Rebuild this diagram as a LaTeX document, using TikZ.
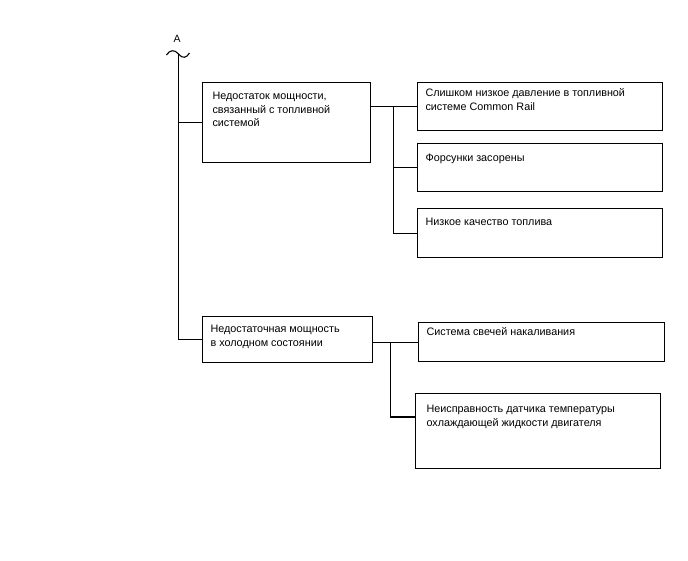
\documentclass[tikz,border=0pt]{standalone}
\usepackage{fontspec}
\setmainfont{Liberation Sans}
\newcommand\bt[5]{\parbox[c][#1pt][t]{#2pt}{\fontsize{10.8}{13.5}\selectfont\raggedright\leftskip=#3pt\leavevmode\rule{0pt}{#4pt}#5}}
\begin{document}
\begin{tikzpicture}[x=1pt,y=-1pt,
  box/.style={draw, line width=1.1pt, inner sep=0pt, anchor=north west},
  conn/.style={line width=1.1pt}]
\useasboundingbox (0,0) rectangle (688,560);
\node[font=\fontsize{10.5}{12}\selectfont] (A) at (177,39) {A};
\coordinate (top) at (178.5,54);
\draw[conn] (166.5,55) .. controls (169.5,50) and (174.5,49) .. (top) .. controls (182.5,59) and (186.5,58) .. (189.5,53);
\node[box] (b1) at (202,82) {\bt{80}{168}{10}{17}{Недостаток мощности,\\связанный с топливной\\системой}};
\node[box] (c1) at (417,82) {\bt{48}{245}{8}{14}{Слишком низкое давление в топливной\\системе Common Rail}};
\node[box] (c2) at (417,143) {\bt{48}{245}{8}{18}{Форсунки засорены}};
\node[box] (c3) at (417,208) {\bt{49}{245}{8}{17}{Низкое качество топлива}};
\node[box] (b2) at (202,316) {\bt{46}{170}{8}{16}{Недостаточная мощность\\в холодном состоянии}};
\node[box] (c4) at (418,322) {\bt{39}{246}{8}{13}{Система свечей накаливания}};
\node[box] (c5) at (415,393) {\bt{75}{245}{11}{19}{Неисправность датчика температуры\\охлаждающей жидкости двигателя}};
\draw[conn] (top) |- (b2.west);
\draw[conn] (top |- b1.west) -- (b1.west);
\coordinate (bus1) at (393.5,107);
\draw[conn] (b1.east |- c1.west) -- (c1.west);
\draw[conn] (bus1 |- c1.west) |- (c3.west);
\draw[conn] (bus1 |- c2.west) -- (c2.west);
\coordinate (bus2) at (390.5,340);
\coordinate (c5in) at (415,417);
\draw[conn] (b2.east |- c4.west) -- (c4.west);
\draw[conn] (bus2 |- c4.west) |- (c5in);
\end{tikzpicture}
\end{document}
